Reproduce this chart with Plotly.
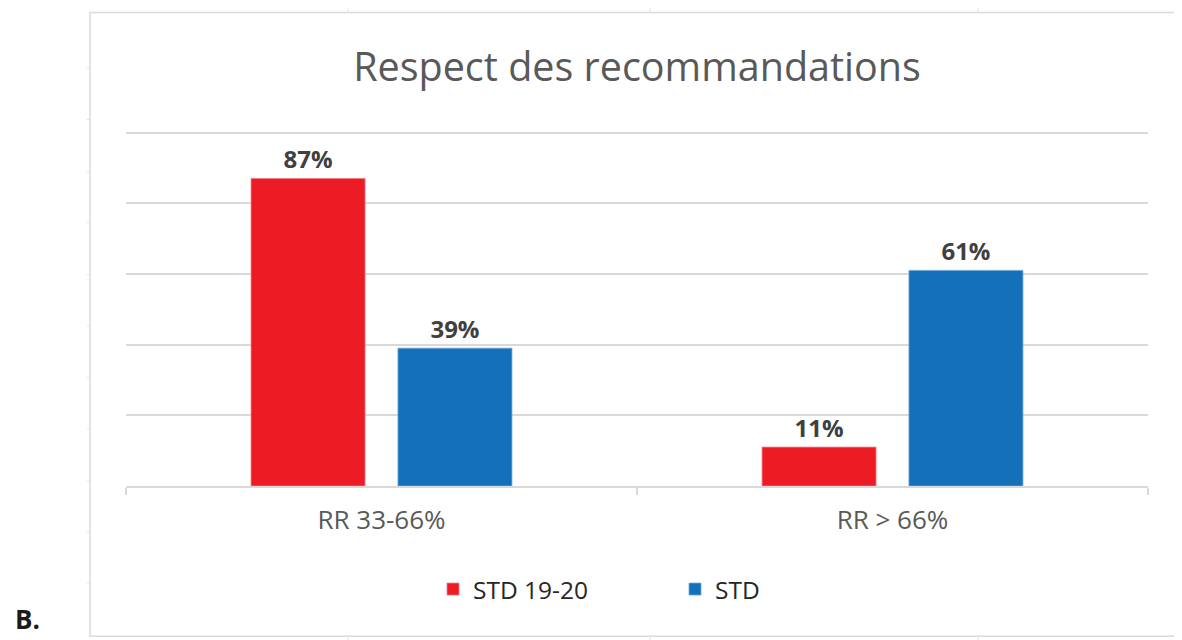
import plotly.graph_objects as go

categories = ["RR 33-66%", "RR > 66%"]
series_names = ["STD 19-20", "STD"]
std_1920 = [87, 11]
std = [39, 61]
y_ticks = [0, 20, 40, 60, 80, 100]
y_max = 101

# The page body has an 8px margin; work in reference pixel coordinates and shift.
OFF = 8
W, H = 1182 - OFF, 640 - OFF
PL, PR, PB = 126, 1148, 486          # reference pixel positions of plot box
PX_PER_UNIT = (486 - 133) / 100.0
PT = PB - y_max * PX_PER_UNIT


def px(x):
    return (x - PL) / (PR - PL)


def py(y):
    return (PB - y) / (PB - PT)


red = "#ED1C24"
blue = "#1470B8"
grid = "#D9D9D9"

fig = go.Figure()
for name, vals, col, edge in [
    (series_names[0], std_1920, red, "#F27C80"),
    (series_names[1], std, blue, "#6FA8DC"),
]:
    fig.add_trace(go.Bar(
        x=categories, y=vals, name=name,
        marker=dict(color=col, line=dict(color=edge, width=0.8)),
        text=[f"{v}%" for v in vals], textposition="outside",
        textfont=dict(family="Open Sans", size=24, color="#404040", weight="bold"),
        cliponaxis=False,
    ))

shapes = []
# outer frame
shapes.append(dict(type="rect", xref="paper", yref="paper",
                   x0=px(90), x1=px(1195), y0=py(13), y1=py(636),
                   line=dict(color="#DADADA", width=1.5), layer="below"))
for yy in [68, 120, 172, 223, 275, 326, 378, 429, 481, 532, 583]:
    shapes.append(dict(type="line", xref="paper", yref="paper",
                       x0=px(87), x1=px(90), y0=py(yy), y1=py(yy),
                       line=dict(color="#E3E3E3", width=1)))
for xx in [348, 650, 978]:
    shapes.append(dict(type="line", xref="paper", yref="paper",
                       x0=px(xx), x1=px(xx), y0=py(9), y1=py(13),
                       line=dict(color="#E3E3E3", width=1)))
    shapes.append(dict(type="line", xref="paper", yref="paper",
                       x0=px(xx), x1=px(xx), y0=py(636), y1=py(640),
                       line=dict(color="#E3E3E3", width=1)))

fig.update_layout(
    width=W, height=H,
    margin=dict(l=PL - OFF, r=(1182 - PR), t=PT - OFF, b=640 - PB),
    paper_bgcolor="white", plot_bgcolor="white",
    barmode="group", bargap=0.425, bargroupgap=0.224,
    title=dict(text="Respect des recommandations", x=0.5, xref="paper",
               y=1 - (67 - OFF) / H, yanchor="middle", xanchor="center",
               font=dict(family="Open Sans", size=39.5, color="#595959")),
    xaxis=dict(showline=True, linecolor=grid, linewidth=1.5,
               ticks="outside", tickson="boundaries", ticklen=7,
               tickcolor=grid, tickwidth=1.5,
               tickfont=dict(family="Open Sans", size=26, color="#595959"),
               ticklabelstandoff=10),
    yaxis=dict(range=[0, y_max], tickvals=y_ticks, showticklabels=False,
               showgrid=True, gridcolor=grid, gridwidth=1.5,
               zeroline=False, fixedrange=True),
    legend=dict(orientation="h", x=px(433), xanchor="left",
                y=py(589), yanchor="middle", itemwidth=30,
                entrywidth=197, entrywidthmode="pixels",
                font=dict(family="Open Sans", size=24.5, color="#262626"),
                bgcolor="rgba(0,0,0,0)"),
    shapes=shapes,
    annotations=[dict(text="<b>B.</b>", xref="paper", yref="paper",
                      x=px(13), y=py(639), xanchor="left", yanchor="bottom",
                      showarrow=False,
                      font=dict(family="Open Sans", size=26, color="#1a1a1a"))],
    showlegend=True,
)

fig.write_html("out.html")
